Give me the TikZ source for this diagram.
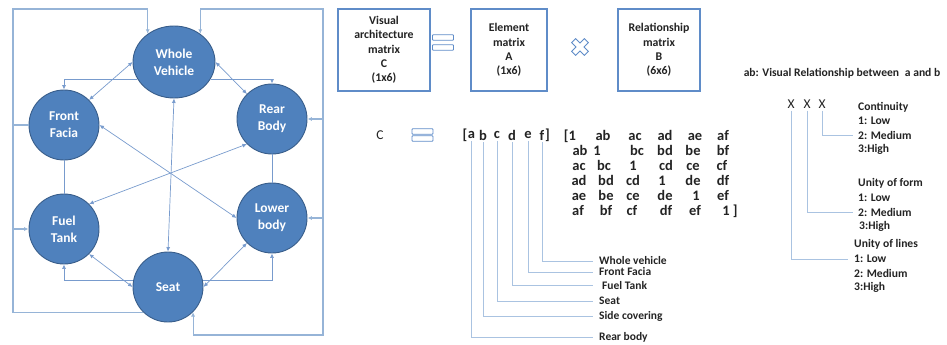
\documentclass[tikz,border=0pt]{standalone}
\usepackage{fontspec}
\setmainfont{Carlito}
\usetikzlibrary{arrows.meta,calc,shapes.geometric}
\definecolor{nodefill}{RGB}{79,129,189}
\definecolor{nodeline}{RGB}{56,93,138}
\definecolor{connc}{RGB}{120,155,205}
\definecolor{loopc}{RGB}{150,180,215}
\definecolor{thinc}{RGB}{170,195,225}
\definecolor{boxline}{RGB}{95,140,200}
\definecolor{ink}{RGB}{35,35,35}
\begin{document}
\begin{tikzpicture}[x=1pt,y=-1pt,
  comp/.style={circle, fill=nodefill, draw=nodeline, line width=0.9pt, minimum size=70pt, inner sep=0pt, text=white, font=\fontsize{13.5}{17}\selectfont\bfseries, align=center},
  connline/.style={draw=connc, line width=0.7pt},
  loopline/.style={draw=loopc, line width=1.1pt},
  thinline/.style={draw=thinc, line width=0.8pt},
  tip/.style={-{Latex[length=4.5pt,width=4pt]}},
  dtip/.style={{Latex[length=4.5pt,width=4pt]}-{Latex[length=4.5pt,width=4pt]}},
  bigbox/.style={draw=boxline, line width=1.2pt, fill=white, align=center, text=ink, font=\fontsize{11.8}{14.3}\selectfont\bfseries, inner sep=0pt, minimum height=82pt},
  eqbar/.style={draw=boxline, line width=0.9pt, rounded corners=0.8pt, minimum width=21pt, minimum height=5.5pt, inner sep=0pt},
  mtx/.style={text=ink, font=\fontsize{14.5}{15}\selectfont\bfseries, inner sep=0pt},
  lbl/.style={text=ink, font=\fontsize{11.5}{12}\selectfont\bfseries, inner sep=0pt, anchor=west},
  lgd/.style={text=ink, font=\fontsize{11.6}{13}\selectfont\bfseries, inner sep=0pt, anchor=west},
  xlbl/.style={text=ink, font=\fontsize{13.5}{15}\selectfont, inner sep=0pt}
]
\useasboundingbox (0,0) rectangle (947,345);

% ---------- graph ----------
\node[comp, ellipse, minimum width=82pt, minimum height=72pt] (WV) at (174,62) {Whole\\Vehicle};
\node[comp] (FF) at (64,125) {Front\\Facia};
\node[comp] (RB) at (272,119) {Rear\\Body};
\node[comp] (FT) at (64,229) {Fuel\\Tank};
\node[comp] (LB) at (272,218) {Lower\\body};
\node[comp] (SE) at (168,287) {Seat};

\coordinate (LT) at (13,9);
\coordinate (RT) at (323,9);
\coordinate (RBot) at (323,335);

% left loop
\draw[loopline,tip] (SE.south west) -- (SE.south west -| LT) -- (LT) -- (LT -| WV.133) -- (WV.133);
\draw[loopline] (FF.west) -- (FF.west -| LT);
\draw[loopline,tip] (FT.west -| LT) -- (FT.west);
% right loop
\draw[loopline,dtip] (WV.47) -- (WV.47 |- RT) -- (RT) -- (RBot) -- (RBot -| SE.south east) -- (SE.south east);
\draw[loopline,tip] (RB.east -| RT) -- (RB.east);
\draw[loopline,tip] (LB.east -| RT) -- (LB.east);

% elbows
\draw[connline,tip] (WV.205) -| (FF.north);
\draw[connline,tip] (WV.-25) -| (RB.north);
\draw[connline,tip] (SE.170) -| (FT.south);
\draw[connline,tip] (SE.10) -| (LB.south);
\draw[connline] (FF.south) -- (FT.north);
\draw[connline] (RB.south) -- (LB.north);

% diagonals
\draw[connline,dtip] (WV.west) -- (FF.45);
\draw[connline,dtip] (WV.east) -- (RB.135);
\draw[connline,dtip] (WV.south) -- (SE.north);
\draw[connline,dtip] (FF.east) -- (LB.west);
\draw[connline,dtip] (RB.225) -- (FT.45);
\draw[connline,dtip] (FT.-45) -- (SE.180);
\draw[connline,dtip] (SE.0) -- (LB.225);

% ---------- top equation ----------
\node[bigbox, minimum width=92pt] (BC) at (384,50) {Visual\\architecture\\matrix\\C\\(1x6)};
\node[bigbox, minimum width=76pt] (BA) at (509,50) {Element\\matrix\\A\\(1x6)};
\node[bigbox, minimum width=82pt] (BB) at (659,50) {Relationship\\matrix\\B\\(6x6)};
\node[eqbar] (eqa) at (443,37.5) {};
\node[eqbar] (eqb) at (443,47.5) {};
\draw[draw=boxline, line width=0.9pt, fill=white, shift={(580,47)}, rotate=45]
  (2.8,9) -- (2.8,2.8) -- (9,2.8) -- (9,-2.8) -- (2.8,-2.8) -- (2.8,-9) -- (-2.8,-9) -- (-2.8,-2.8) -- (-9,-2.8) -- (-9,2.8) -- (-2.8,2.8) -- (-2.8,9) -- cycle;

% ---------- C = [a..f] [matrix] ----------
\node[xlbl] (Cl) at (380,135) {C};
\node[eqbar] (eqc) at (422.5,131.5) {};
\node[eqbar] (eqd) at (422.5,138.5) {};

\node[mtx] (lbr) at (465,135) {[};
\node[mtx] (la) at (471.5,135) {a};
\node[mtx] (lb) at (483,135) {b};
\node[mtx] (lc) at (497,135) {c};
\node[mtx] (ld) at (512,135) {d};
\node[mtx] (le) at (528,135) {e};
\node[mtx] (lf) at (542,135) {f};
\node[mtx] (rbr) at (547.5,135) {]};

\foreach \t/\xx/\yy [count=\i] in {
  {[1}/570/135, ab/603/135, ac/635/135, ad/665/135, ae/695/135, af/723/135,
  ab/580/150, 1/597/150, bc/637/150, bd/665/150, be/693/150, bf/723/150,
  ac/579/165, bc/604/165, 1/633/165, cd/666/165, ce/693/165, cf/722/165,
  ad/579/180, bd/606/180, cd/633/180, 1/662/180, de/693/180, df/723/180,
  ae/579/195, be/606/195, ce/633/195, de/665/195, 1/696/195, ef/723/195,
  af/578/210, bf/606/210, cf/632/210, df/666/210, ef/695/210, {1 ]}/730/210}
  \node[mtx, anchor=base] (m\i) at (\xx,\yy+5) {\t};

\node[lbl] (nWV) at (599,261) {Whole vehicle};
\node[lbl] (nFF) at (599,272) {Front Facia};
\node[lbl] (nFT) at (602,285.5) {Fuel Tank};
\node[lbl] (nSE) at (599,301) {Seat};
\node[lbl] (nSC) at (599,316) {Side covering};
\node[lbl] (nRB) at (599,337) {Rear body};

\draw[thinline, shorten <=2pt, shorten >=6pt] (lf.south) |- (nWV.west);
\draw[thinline, shorten <=2pt, shorten >=6pt] (le.south) |- (nFF.west);
\draw[thinline, shorten <=2pt, shorten >=9pt] (ld.south) |- (nFT.west);
\draw[thinline, shorten <=2pt, shorten >=6pt] (lc.south) |- (nSE.west);
\draw[thinline, shorten <=2pt, shorten >=6pt] (lb.south) |- (nSC.west);
\draw[thinline, shorten <=2pt, shorten >=6pt] (la.south) |- (nRB.west);

% ---------- legend ----------
\node[lgd, anchor=center] (hdr) at (842,73) {ab: Visual Relationship between\enspace a and b};
\node[xlbl] (x1) at (791,104) {X};
\node[xlbl] (x2) at (807,104) {X};
\node[xlbl] (x3) at (822,104) {X};

\node[lgd] (c0) at (858,107) {Continuity};
\node[lgd] (c1) at (858,121) {1: Low};
\node[lgd] (c2) at (858,135) {2: Medium};
\node[lgd] (c3) at (858,149) {3:High};
\node[lgd] (f0) at (858,183) {Unity of form};
\node[lgd] (f1) at (858,198) {1: Low};
\node[lgd] (f2) at (858,212) {2: Medium};
\node[lgd] (f3) at (859,226) {3:High};
\node[lgd] (u0) at (854,244) {Unity of lines};
\node[lgd] (u1) at (854,259) {1: Low};
\node[lgd] (u2) at (854,273) {2: Medium};
\node[lgd] (u3) at (854,287) {3:High};

\draw[thinline, shorten <=2pt, shorten >=5pt] (x3.south) |- (c2.west);
\draw[thinline, shorten <=2pt, shorten >=5pt] (x2.south) |- (f2.west);
\draw[thinline, shorten <=2pt, shorten >=6pt] (x1.south) |- (u1.west);
\end{tikzpicture}
\end{document}
